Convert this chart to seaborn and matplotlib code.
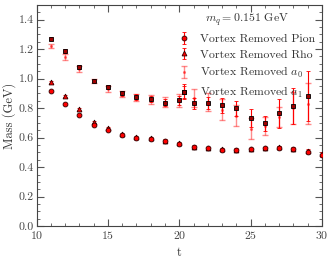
import numpy as np
import matplotlib
matplotlib.use("Agg")
import matplotlib.pyplot as plt
import seaborn as sns
from matplotlib.ticker import MultipleLocator

# ── Data ─────────────────────────────────────────────────────────────────────
t_pion = [11, 12, 13, 14, 15, 16, 17, 18, 19, 20, 21, 22, 23, 24, 25, 26, 27, 28, 29, 30]
pion = [0.915, 0.830, 0.755, 0.683, 0.650, 0.615, 0.600, 0.592, 0.575, 0.558,
        0.536, 0.527, 0.518, 0.516, 0.522, 0.528, 0.533, 0.522, 0.502, 0.480]
pion_err = [0.006, 0.006, 0.006, 0.006, 0.006, 0.006, 0.006, 0.006, 0.006, 0.007,
            0.007, 0.007, 0.007, 0.007, 0.007, 0.008, 0.008, 0.008, 0.009, 0.010]

t_rho = t_pion
rho = [0.978, 0.880, 0.793, 0.705, 0.665, 0.622, 0.605, 0.596, 0.580, 0.562,
       0.540, 0.530, 0.521, 0.519, 0.525, 0.531, 0.536, 0.526, 0.510, 0.490]
rho_err = [0.008, 0.008, 0.008, 0.008, 0.008, 0.008, 0.008, 0.008, 0.008, 0.008,
           0.008, 0.008, 0.008, 0.008, 0.008, 0.009, 0.009, 0.010, 0.012, 0.012]

t_a0 = [11, 12, 13, 14, 15, 16, 17, 18, 19, 20, 21, 22, 23, 24, 25, 26, 27, 28, 29]
a0 = [1.219, 1.147, 1.065, 0.985, 0.930, 0.895, 0.870, 0.858, 0.840, 0.850,
      0.870, 0.840, 0.790, 0.750, 0.660, 0.680, 0.740, 0.800, 0.830]
a0_err = [0.012, 0.020, 0.020, 0.015, 0.020, 0.022, 0.025, 0.030, 0.035, 0.045,
          0.060, 0.060, 0.070, 0.070, 0.070, 0.060, 0.070, 0.110, 0.140]

t_a1 = [11, 12, 13, 14, 15, 16, 17, 18, 19, 20, 20.35, 21, 22, 23, 24, 25, 26, 27, 28, 29]
a1 = [1.271, 1.185, 1.077, 0.987, 0.944, 0.899, 0.874, 0.861, 0.838, 0.854,
      0.910, 0.832, 0.836, 0.820, 0.798, 0.734, 0.696, 0.764, 0.815, 0.883]
a1_err = [0.010, 0.015, 0.015, 0.012, 0.015, 0.015, 0.020, 0.020, 0.025, 0.030,
          0.050, 0.035, 0.040, 0.050, 0.050, 0.060, 0.050, 0.100, 0.120, 0.170]

# ── Style ────────────────────────────────────────────────────────────────────
sns.set_theme(style="ticks")
plt.rcParams.update({
    "font.family": "serif",
    "font.serif": ["cmr10", "DejaVu Serif"],
    "mathtext.fontset": "cm",
    "axes.formatter.use_mathtext": True,
    "axes.edgecolor": "#444444",
    "axes.linewidth": 0.8,
    "xtick.color": "#555555",
    "ytick.color": "#555555",
    "xtick.labelcolor": "#444444",
    "ytick.labelcolor": "#444444",
})

fig = plt.figure(figsize=(3.32, 2.64), dpi=100)
ax = fig.add_axes([0.11, 0.143, 0.86, 0.839])

ax.errorbar(t_pion, pion, yerr=pion_err, fmt="o", ms=3.5, mfc="red", mec="#300000",
            mew=0.6, ecolor="red", elinewidth=0.8, capsize=1.2,
            label="Vortex Removed Pion", zorder=4)
ax.errorbar(t_rho, rho, yerr=rho_err, fmt="^", ms=3.5, mfc="red", mec="#300000",
            mew=0.6, ecolor="red", elinewidth=0.8, capsize=1.2,
            label="Vortex Removed Rho", zorder=3)
ax.errorbar(t_a0, a0, yerr=a0_err, fmt=".", ms=2.5, color="red", alpha=0.45,
            elinewidth=1.0, capsize=2, label="Vortex Removed $a_0$", zorder=2)
ax.errorbar(t_a1, a1, yerr=a1_err, fmt="s", ms=2.8, mfc="#a00000", mec="black",
            mew=0.6, ecolor="red", elinewidth=0.8, capsize=1.5,
            label="Vortex Removed $a_1$", zorder=3)

ax.set_xlim(10, 30)
ax.set_ylim(0, 1.5)
ax.xaxis.set_major_locator(MultipleLocator(5))
ax.xaxis.set_minor_locator(MultipleLocator(1))
ax.yaxis.set_major_locator(MultipleLocator(0.2))
ax.yaxis.set_minor_locator(MultipleLocator(0.05))
ax.yaxis.set_major_formatter(matplotlib.ticker.FormatStrFormatter("%.1f"))
ax.tick_params(which="both", direction="in", top=True, right=True, labelsize=8.5, pad=2)
ax.tick_params(which="major", length=5, width=0.8)
ax.tick_params(which="minor", length=2.5, width=0.6)

ax.set_xlabel("t", fontsize=9, color="#333333", labelpad=4)
ax.set_ylabel("Mass (GeV)", fontsize=9, color="#333333", labelpad=2)

leg = ax.legend(loc="upper right", frameon=False, fontsize=8.5,
                title=r"$m_q = 0.151$ GeV", title_fontsize=8.5,
                handlelength=1.0, labelspacing=0.45, borderaxespad=0.2)
for txt in leg.get_texts():
    txt.set_color("#333333")
leg.get_title().set_color("#333333")

fig.savefig("out.png", dpi=100)
